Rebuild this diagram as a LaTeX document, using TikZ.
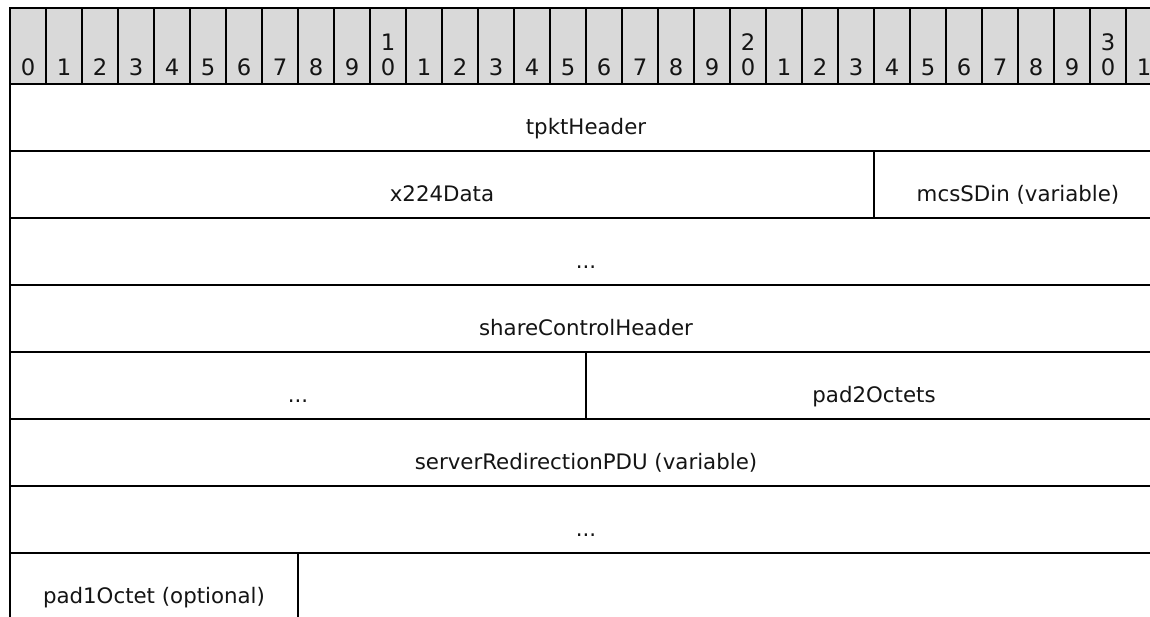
\documentclass[tikz,border=0pt]{standalone}
\usepackage{fontspec}
\setmainfont{DejaVu Sans}
\usetikzlibrary{positioning, calc}
\definecolor{headgray}{RGB}{217,217,217}
\definecolor{inkblack}{RGB}{20,20,20}
\newcommand{\fieldfont}{\fontsize{16pt}{19pt}\selectfont}
\newcommand{\digitfont}{\fontsize{17pt}{20pt}\selectfont}

\begin{document}
\begin{tikzpicture}[
    x=0.75pt, y=-0.75pt,
    bitcell/.style={rectangle, draw=black, fill=headgray, line width=1.2pt, minimum width=27pt, minimum height=57pt, anchor=north west, outer sep=0pt, inner sep=0pt},
    bitnum/.style={inner sep=0pt, anchor=base, text=inkblack, font=\digitfont},
    field/.style={rectangle, draw=black, line width=1.5pt, minimum width=#1*27pt, minimum height=50.25pt, anchor=north west, outer sep=0pt, inner sep=0pt, text height=24.75pt, text depth=0pt, text=inkblack, font=\fieldfont}
]
\useasboundingbox (0,0) rectangle (1150,617);
\clip (0,0) rectangle (1150,617);
\fill[white] (0,0) rectangle (1150,617);
% bit ruler
\foreach \i in {0,...,31} {
  \pgfmathtruncatemacro\ones{mod(\i,10)}
  \pgfmathtruncatemacro\tens{\i/10}
  \node[bitcell] (bit\i) at (10+36*\i, 8) {};
  \node[bitnum] (num\i) at ($(bit\i.south)+(0,-8.5)$) {\ones};
  \ifnum\ones=0 \ifnum\i>0
    \node[bitnum] (tens\i) at ($(num\i.base)+(0,-25)$) {\tens};
  \fi\fi
}
% fields
\node[field=32] (tpkt) at (bit0.south west) {tpktHeader};
\node[field=24] (x224) at (tpkt.south west) {x224Data};
\node[field=8] (mcssdin) at (x224.north east) {mcsSDin (variable)};
\node[field=32] (more1) at (x224.south west) {...};
\node[field=32] (sharectrl) at (more1.south west) {shareControlHeader};
\node[field=16] (more2) at (sharectrl.south west) {...};
\node[field=16] (pad2) at (more2.north east) {pad2Octets};
\node[field=32] (redirpdu) at (more2.south west) {serverRedirectionPDU (variable)};
\node[field=32] (more3) at (redirpdu.south west) {...};
\node[field=8] (pad1) at (more3.south west) {pad1Octet (optional)};
\end{tikzpicture}
\end{document}
